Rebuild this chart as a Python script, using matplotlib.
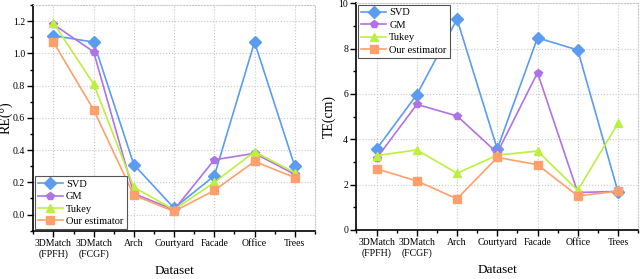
import matplotlib
matplotlib.use('Agg')
import matplotlib.pyplot as plt
from matplotlib.ticker import MultipleLocator, FormatStrFormatter

plt.rcParams['font.family'] = 'Liberation Serif'

datasets = ['3DMatch\n(FPFH)', '3DMatch\n(FCGF)', 'Arch', 'Courtyard', 'Facade', 'Office', 'Trees']

# rotation error (deg)
re_svd = [1.11, 1.07, 0.31, 0.04, 0.24, 1.07, 0.30]
re_gm = [1.18, 1.01, 0.13, 0.03, 0.34, 0.38, 0.25]
re_tukey = [1.19, 0.81, 0.17, 0.03, 0.20, 0.39, 0.26]
re_ours = [1.07, 0.65, 0.12, 0.02, 0.15, 0.33, 0.23]

# translation error (cm)
te_svd = [3.57, 5.97, 9.3, 3.57, 8.48, 7.94, 1.69]
te_gm = [3.16, 5.54, 5.03, 3.4, 6.94, 1.65, 1.7]
te_tukey = [3.28, 3.53, 2.5, 3.3, 3.48, 1.75, 4.7]
te_ours = [2.7, 2.16, 1.37, 3.2, 2.88, 1.5, 1.71]

styles = [('SVD', '#5b9cf0', 'D'), ('GM', '#b072e6', 'p'),
          ('Tukey', '#bdf03e', '^'), ('Our estimator', '#ffa06c', 's')]

fig = plt.figure(figsize=(6.4, 2.79), dpi=100)
ax1 = fig.add_axes([0.052, 0.173, 0.440, 0.809])
ax2 = fig.add_axes([0.557, 0.176, 0.440, 0.812])

x = list(range(len(datasets)))


def draw(ax, series, ylabel, ylim, major, minor, legend_loc):
    for (name, col, mk), vals in zip(styles, series):
        ax.plot(x, vals, color=col, marker=mk, markersize=6, linewidth=1.2, label=name)
    ax.set_xlim(-0.5, 6.5)
    ax.set_ylim(*ylim)
    ax.set_xticks(x)
    ax.set_xticklabels(datasets, fontsize=7)
    ax.xaxis.set_minor_locator(MultipleLocator(0.5))
    ax.yaxis.set_major_locator(MultipleLocator(major))
    ax.yaxis.set_minor_locator(MultipleLocator(minor))
    ax.tick_params(axis='both', which='major', labelsize=7, length=4, width=1, pad=2)
    ax.tick_params(axis='both', which='minor', length=2, width=1)
    ax.grid(True, linestyle=':', color='#c8c8c8', linewidth=0.8)
    for s in ['top', 'right']:
        ax.spines[s].set_linestyle(':')
        ax.spines[s].set_color('#c8c8c8')
    ax.spines['left'].set_linewidth(1.2)
    ax.spines['bottom'].set_linewidth(1.2)
    ax.set_xlabel('Dataset', fontsize=9.5, labelpad=4)
    ax.set_ylabel(ylabel, fontsize=10)
    leg = ax.legend(loc=legend_loc, fontsize=7.5, handlelength=2.4, borderpad=0.3,
                    labelspacing=0.3, handletextpad=0.3, borderaxespad=0.15,
                    fancybox=False, framealpha=1)
    leg.get_frame().set_edgecolor('#555555')
    leg.get_frame().set_linewidth(0.8)


draw(ax1, [re_svd, re_gm, re_tukey, re_ours], 'RE(°)', (-0.1, 1.3), 0.2, 0.1, 'lower left')
ax1.yaxis.set_major_formatter(FormatStrFormatter('%.1f'))
ax1.yaxis.set_label_coords(-0.075, 0.5)
draw(ax2, [te_svd, te_gm, te_tukey, te_ours], 'TE(cm)', (0, 10), 2, 1, 'upper left')
ax2.yaxis.set_label_coords(-0.075, 0.5)

fig.savefig('out.png', dpi=100)
